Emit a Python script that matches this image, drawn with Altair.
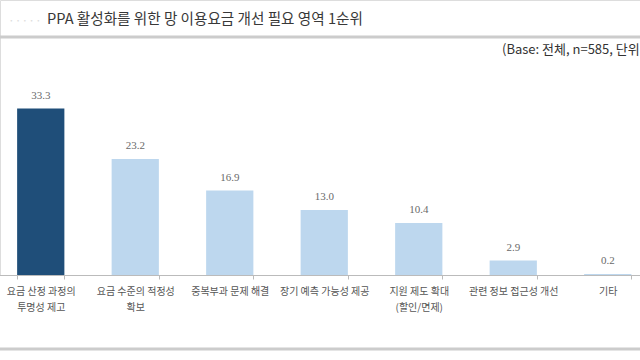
import altair as alt
import pandas as pd

categories = ["요금 산정 과정의|투명성 제고", "요금 수준의 적정성|확보", "중복부과 문제 해결",
              "장기 예측 가능성 제공", "지원 제도 확대|(할인/면제)", "관련 정보 접근성 개선", "기타"]
values = [33.3, 23.2, 16.9, 13.0, 10.4, 2.9, 0.2]
highlight = [True, False, False, False, False, False, False]
title_text = "PPA 활성화를 위한 망 이용요금 개선 필요 영역 1순위"
base_text = "(Base: 전체, n=585, 단위: %)"

df = pd.DataFrame({"cat": categories, "val": values, "hi": highlight})
df["lbl"] = df["val"].map(lambda v: f"{v:.1f}")

KR = "Noto Sans CJK KR"

x = alt.X("cat:N", sort=categories, title=None,
          scale=alt.Scale(range=[-6.5, 655], paddingInner=0.5, paddingOuter=0.25),
          axis=alt.Axis(labelAngle=0, labelExpr="split(datum.label, '|')", labelFont=KR,
                        labelFontSize=10, labelColor="#555555", labelPadding=7, labelLineHeight=16,
                        domainColor="#bbbbbb", tickColor="#bbbbbb", tickSize=4, tickBand="extent",
                        labelBaseline="top"))
y = alt.Y("val:Q", scale=alt.Scale(domain=[0, 55]), axis=None)

bars = alt.Chart(df).mark_bar().encode(
    x=x, y=y,
    color=alt.Color("hi:N", scale=alt.Scale(domain=[True, False], range=["#1f4e79", "#bdd7ee"]), legend=None),
)
labels = alt.Chart(df).mark_text(dy=-13, font="Liberation Serif", fontSize=11, color="#6a6a6a").encode(
    x=x, y=y, text="lbl:N")

top_rule = alt.Chart(pd.DataFrame({"a": [0]})).mark_rule(color="#cccccc", strokeWidth=3).encode(
    x=alt.value(0), x2=alt.value(640), y=alt.value(37))
bot_rule = alt.Chart(pd.DataFrame({"a": [0]})).mark_rule(color="#cccccc", strokeWidth=3).encode(
    x=alt.value(0), x2=alt.value(640), y=alt.value(349))
title = alt.Chart(pd.DataFrame({"t": [title_text]})).mark_text(
    font=KR, fontSize=14.6, color="#383838", align="left", baseline="middle").encode(
    x=alt.value(47), y=alt.value(20), text="t:N")
dots = alt.Chart(pd.DataFrame({"t": ["·····"]})).mark_text(
    font=KR, fontSize=12, color="#dddddd", align="left", baseline="middle").encode(
    x=alt.value(8), y=alt.value(21), text="t:N")
base = alt.Chart(pd.DataFrame({"t": [base_text]})).mark_text(
    font=KR, fontSize=13, color="#333333", align="left", baseline="middle").encode(
    x=alt.value(502), y=alt.value(50), text="t:N")

chart = alt.layer(bars, labels, top_rule, bot_rule, dots, title, base).properties(
    width=640, height=275,
    autosize=alt.AutoSizeParams(type="none"),
    padding={"left": 0, "top": 0, "right": 0, "bottom": 85},
).configure_view(stroke=None).configure(background="white")

chart.save("out.html", embed_options={"renderer": "svg", "actions": False})
